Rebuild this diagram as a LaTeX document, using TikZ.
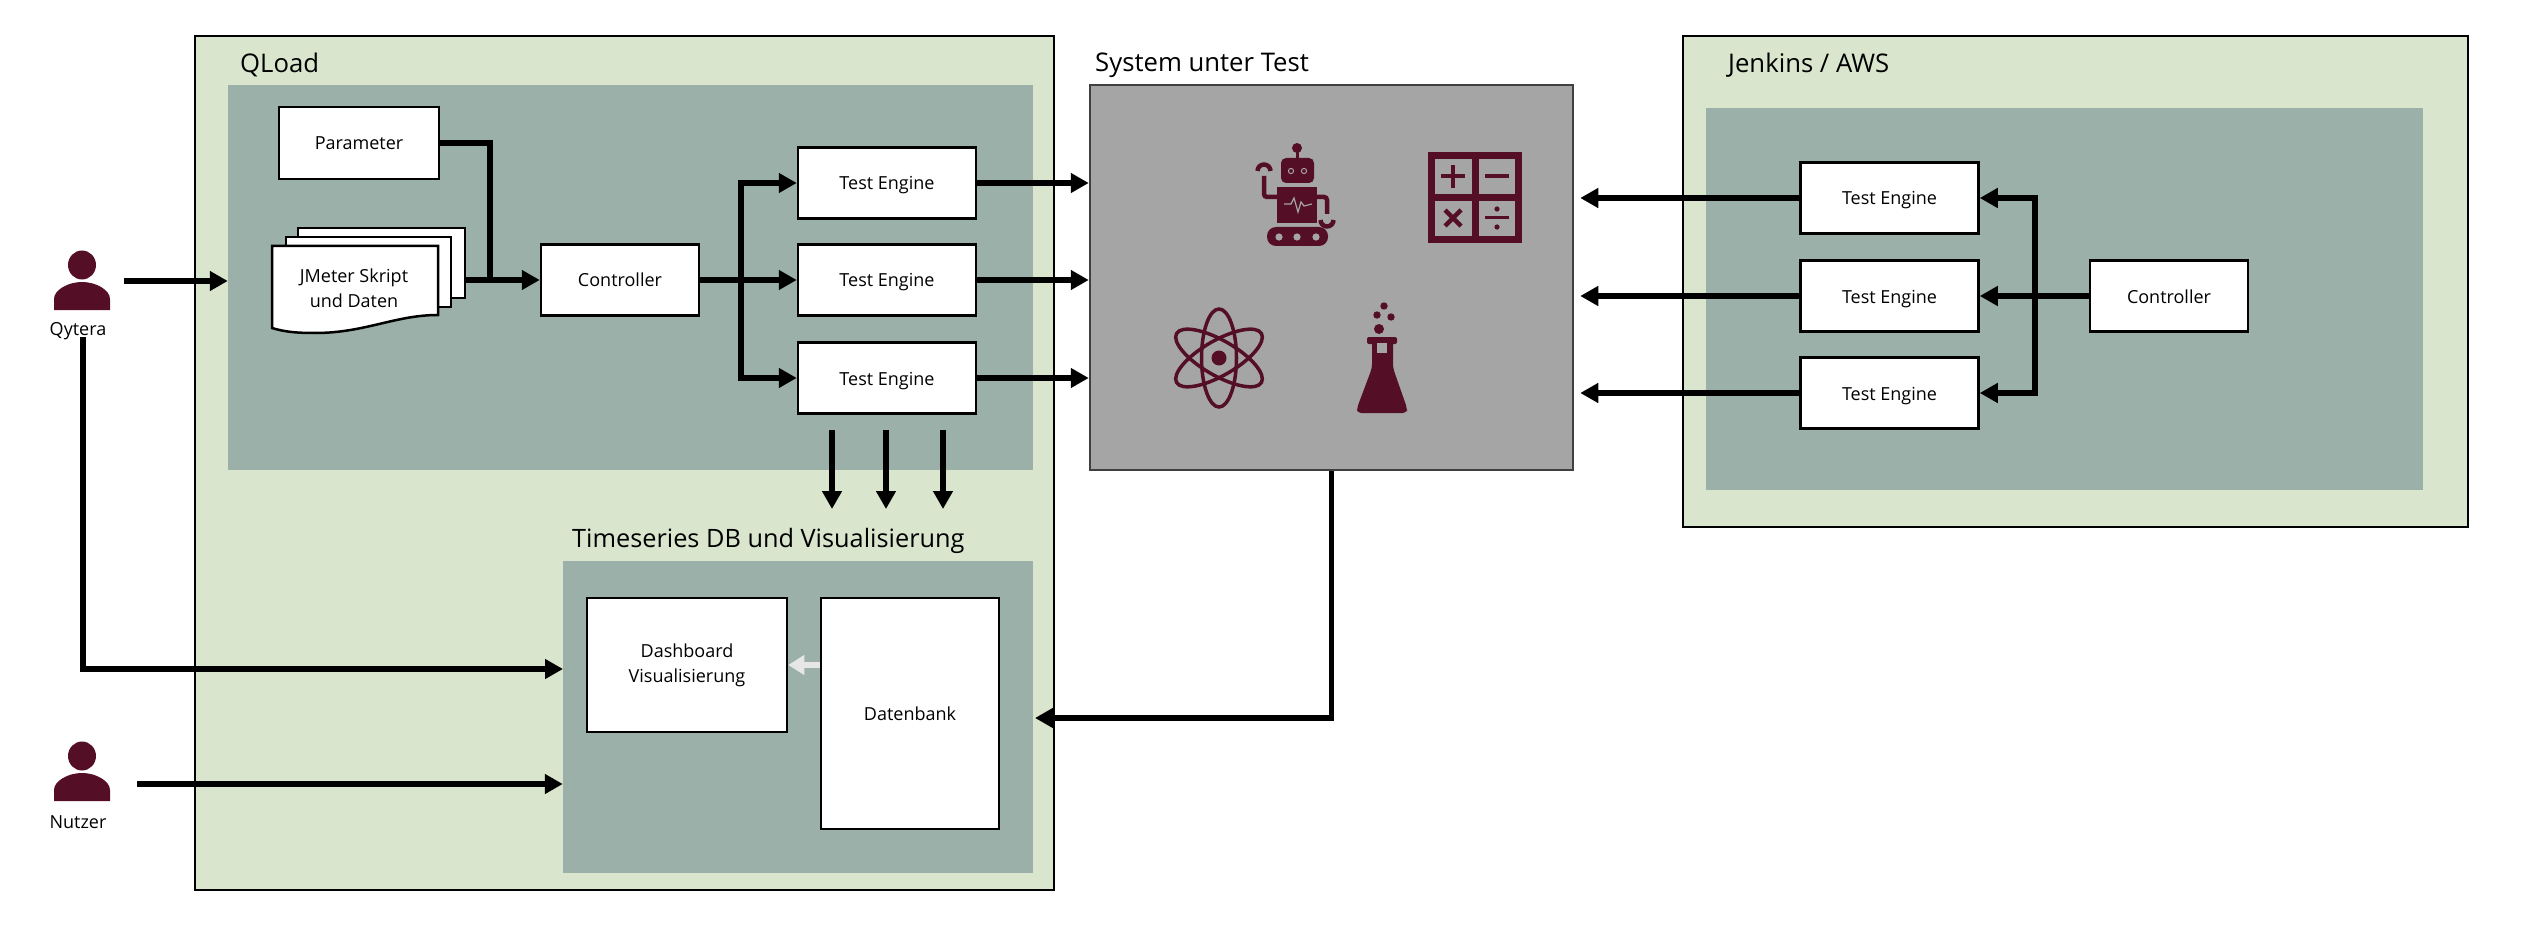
\documentclass[tikz,border=0pt]{standalone}
\usepackage{xcolor}
\usepackage{fontspec}
\setmainfont{Open Sans}
\usetikzlibrary{positioning, arrows.meta, calc}
\definecolor{paleGreen}{RGB}{218, 229, 205}
\definecolor{greyGreen}{RGB}{155, 176, 169}
\definecolor{sutGrey}{RGB}{165, 165, 165}
\definecolor{wine}{RGB}{84, 14, 38}
\definecolor{lightArrow}{RGB}{231, 230, 230}

\tikzset{
	outerbox/.style={draw=black, line width=2.5pt, fill=paleGreen, inner sep=0pt},
	panel/.style={fill=greyGreen, inner sep=0pt},
	whitebox/.style={draw=black, line width=2.5pt, fill=white, inner sep=0pt, align=center, font=\fontsize{18}{25}\selectfont},
	oneline/.style={whitebox, text height=14pt, text depth=0pt},
	title/.style={anchor=west, inner sep=0pt, font=\fontsize{25.7}{30}\selectfont},
	small/.style={inner sep=0pt, align=center, font=\fontsize{18}{25}\selectfont},
	link/.style={line width=5.5pt, black},
	conn/.style={link, -{Triangle[length=18pt, width=19pt]}},
	engine/.style={oneline, minimum width=178pt, minimum height=71pt},
	ctrlbox/.style={oneline, minimum width=158pt, minimum height=71pt},
	user/.pic={
		\fill[wine] (0,-17) ellipse (14 and 14.5);
		\fill[wine] (-28,28) -- (-28,17) .. controls (-28,8) and (-14,0) .. (0,0) .. controls (14,0) and (28,8) .. (28,17) -- (28,28) -- cycle;
	}
}

\begin{document}
\begin{tikzpicture}[x=1pt, y=-1pt]
	\useasboundingbox (0,0) rectangle (2528,952);

	% big boxes
	\node[outerbox, minimum width=859pt, minimum height=854pt] (qload) at (624.5,463) {};
	\node[panel, minimum width=805pt, minimum height=384pt] (qpanel) at (630.5,277.5) {};
	\node[panel, minimum width=470pt, minimum height=312pt] (tspanel) at (798,717) {};
	\node[outerbox, minimum width=785pt, minimum height=491pt] (jenkins) at (2075.5,281.5) {};
	\node[panel, minimum width=717pt, minimum height=382pt] (jpanel) at (2064.5,299) {};
	\node[draw=black!75, line width=2.5pt, fill=sutGrey, minimum width=483pt, minimum height=385pt] (sut) at (1331.5,277.5) {};

	\node[title] (qloadtitle) at (240,65) {QLoad};
	\node[title] (suttitle) at (1095,65) {System unter Test};
	\node[title] (jenkinstitle) at (1728,65) {Jenkins / AWS};
	\node[title, font=\fontsize{25.3}{30}\selectfont] (tstitle) at (572,541) {Timeseries DB und Visualisierung};

	% QLoad
	\node[oneline, minimum width=160pt, minimum height=72pt] (param) at (359,143) {Parameter};
	\node[whitebox, minimum width=167pt, minimum height=70pt] (doc3) at (381.5,263) {};
	\node[whitebox, minimum width=165pt, minimum height=70pt] (doc2) at (368.5,272) {};
	\draw[draw=black, line width=2.5pt, fill=white] (272,246) -- (438,246) -- (438,315) .. controls (395,315) and (365,333) .. (315,333) .. controls (297,333) and (285,332) .. (272,328) -- cycle;
	\node[small] (jmeter) at (354,288) {JMeter Skript\\und Daten};
	\node[ctrlbox] (ctrl) at (620,280) {Controller};
	\node[engine] (te1) at (887,183) {Test Engine};
	\node[engine] (te2) at (887,280) {Test Engine};
	\node[engine] (te3) at (887,378) {Test Engine};

	\coordinate (join) at (490,280);
	\coordinate (split) at (741,280);
	\draw[link] (param.east) -| (join);
	\draw[conn] (ctrl.west -| doc3.east) -- (ctrl.west);
	\draw[link] (ctrl.east) -- (split);
	\draw[conn] (split) |- (te1.west);
	\draw[conn] (split) -- (te2.west);
	\draw[conn] (split) |- (te3.west);

	\foreach \i/\x in {1/832, 2/886, 3/943} {
		\coordinate (dnfrom\i) at (\x,430);
		\coordinate (dnto\i) at (\x,509);
		\draw[conn] (dnfrom\i) -- (dnto\i);
	}

	\draw[conn] (te1.east) -- (te1.east -| sut.west);
	\draw[conn] (te2.east) -- (te2.east -| sut.west);
	\draw[conn] (te3.east) -- (te3.east -| sut.west);

	% Timeseries
	\node[whitebox, minimum width=200pt, minimum height=134pt] (dash) at (687,665) {Dashboard\\Visualisierung};
	\node[oneline, minimum width=178pt, minimum height=231pt] (db) at (910,713.5) {Datenbank};
	\draw[line width=5.5pt, lightArrow, -{Triangle[length=16pt, width=19pt]}] (db.west |- dash.east) -- (dash.east);

	\coordinate (dbin) at (1035,718);
	\draw[conn] (sut.south) |- (dbin);

	% Jenkins
	\node[engine] (jte1) at (1889.5,198) {Test Engine};
	\node[engine] (jte2) at (1889.5,296) {Test Engine};
	\node[engine] (jte3) at (1889.5,393) {Test Engine};
	\node[ctrlbox] (jctrl) at (2169,296) {Controller};
	\coordinate (jsplit) at (2035,296);
	\draw[link] (jctrl.west) -- (jsplit);
	\draw[conn] (jsplit) |- (jte1.east);
	\draw[conn] (jsplit) -- (jte2.east);
	\draw[conn] (jsplit) |- (jte3.east);
	\draw[conn] (jte1.west) -- ([xshift=6pt]jte1.west -| sut.east);
	\draw[conn] (jte2.west) -- ([xshift=6pt]jte2.west -| sut.east);
	\draw[conn] (jte3.west) -- ([xshift=6pt]jte3.west -| sut.east);

	% users
	\pic at (82,282) {user};
	\pic at (82,773) {user};
	\coordinate (qyhand) at (124,281);
	\coordinate (qyfoot) at (83,337);
	\coordinate (tsin) at (563,669);
	\coordinate (nuhand) at (137,784);
	\draw[conn] (qyhand) -- (qyhand -| qpanel.west);
	\draw[conn] (qyfoot) |- (tsin);
	\draw[conn] (nuhand) -- (nuhand -| tspanel.west);
	\node[small] (qytera) at (78,331) {Qytera};
	\node[small] (nutzer) at (78,822) {Nutzer};

	% robot
	\fill[wine] (1297,148) circle (5);
	\fill[wine] (1295.5,148) rectangle (1298.5,160);
	\fill[wine, rounded corners=5pt] (1281,158) rectangle (1314,183);
	\foreach \x in {1291,1304} {
		\draw[sutGrey, line width=1pt] (\x,171) circle (2.6);
	}
	\fill[wine] (1277,187) rectangle (1317,223);
	\fill[wine, rounded corners=9pt] (1267,227) rectangle (1328,246);
	\foreach \x in {1279,1297,1316} {
		\fill[sutGrey] (\x,237) circle (3.6);
	}
	\draw[wine, line width=4.5pt, rounded corners=3pt] (1277,197) -- (1264,197) -- (1264,176);
	\draw[wine, line width=4.5pt, rounded corners=3pt] (1317,197) -- (1327,197) -- (1327,214);
	\draw[wine, line width=4.5pt] (1257.5,171) arc[start angle=180, end angle=360, radius=6.5];
	\draw[wine, line width=4.5pt] (1320.5,220) arc[start angle=180, end angle=0, radius=6.5];
	\draw[sutGrey, line width=1.2pt] (1284,204) -- (1291,204) -- (1294,198) -- (1298,212) -- (1301,202) -- (1304,206) -- (1312,204);

	% calculator
	\draw[wine, line width=7pt] (1431.5,155.5) rectangle (1518.5,239.5);
	\draw[wine, line width=7pt] (1475,155) -- (1475,240);
	\draw[wine, line width=7pt] (1431,198) -- (1519,198);
	\draw[wine, line width=4pt] (1441,176) -- (1465,176);
	\draw[wine, line width=4pt] (1453,165) -- (1453,188);
	\draw[wine, line width=4pt] (1485,176) -- (1509,176);
	\draw[wine, line width=4.5pt] (1445,210) -- (1461,226);
	\draw[wine, line width=4.5pt] (1461,210) -- (1445,226);
	\draw[wine, line width=3pt] (1485,218) -- (1509,218);
	\fill[wine] (1497,209) circle (2.6);
	\fill[wine] (1497,227) circle (2.6);

	% atom
	\foreach \a in {0,60,-60} {
		\draw[wine, line width=3.5pt, rotate around={\a:(1219,358)}] (1219,358) ellipse (17.5 and 49);
	}
	\fill[wine] (1219,358) circle (7.5);

	% flask
	\fill[wine, rounded corners=2pt] (1367,337) rectangle (1397,344);
	\fill[wine, rounded corners=4pt] (1372,340) -- (1393,340) -- (1393,368) -- (1407,408) -- (1407,413) -- (1357,413) -- (1357,408) -- (1372,368) -- cycle;
	\fill[sutGrey] (1377,343) rectangle (1387,353);
	\fill[wine] (1384,306) circle (3.7);
	\fill[wine] (1377,315) circle (3.7);
	\fill[wine] (1391,317) circle (3.7);
	\fill[wine] (1379,329) circle (5);
\end{tikzpicture}
\end{document}
